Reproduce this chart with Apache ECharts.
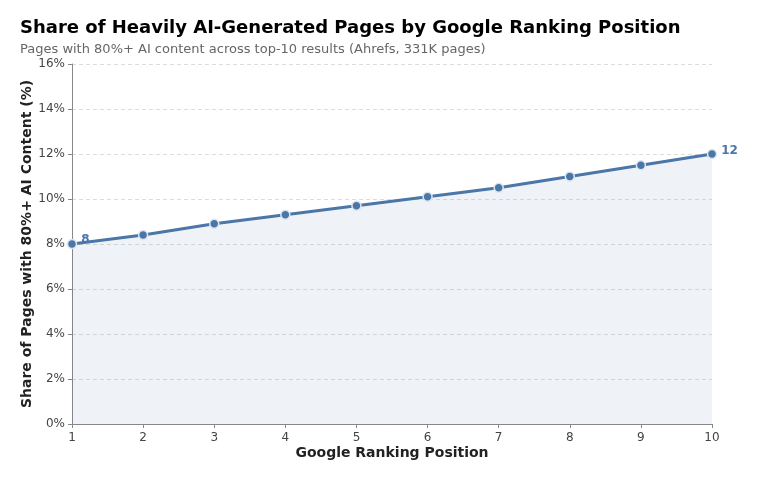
<!DOCTYPE html>
<html>
<head>
<meta charset="utf-8">
<script src="https://cdn.jsdelivr.net/npm/echarts@6/dist/echarts.min.js"></script>
<style>
html,body{margin:0;padding:0;background:#fff;}
#main{width:757px;height:480px;}
</style>
</head>
<body>
<div id="main"></div>
<script>
// ranking positions and share of pages (%)
var positions = ['1','2','3','4','5','6','7','8','9','10'];
var shares = [8.0, 8.4, 8.9, 9.3, 9.7, 10.1, 10.5, 11.0, 11.5, 12.0];
var yTicks = [0, 2, 4, 6, 8, 10, 12, 14, 16];

var font = 'DejaVu Sans';
var blue = '#4a76a8';

var chart = echarts.init(document.getElementById('main'));
var option = {
    animation: false,
    textStyle: { fontFamily: font },
    title: {
        text: 'Share of Heavily AI-Generated Pages by Google Ranking Position',
        subtext: 'Pages with 80%+ AI content across top-10 results (Ahrefs, 331K pages)',
        left: 15,
        top: 14,
        itemGap: 6,
        textStyle: { fontFamily: font, fontSize: 18, fontWeight: 'bold', color: '#000' },
        subtextStyle: { fontFamily: font, fontSize: 13, color: '#666' }
    },
    grid: { left: 72, right: 45, top: 64, bottom: 56 },
    xAxis: {
        type: 'category',
        data: positions,
        boundaryGap: false,
        name: 'Google Ranking Position',
        nameLocation: 'middle',
        nameGap: 22,
        nameMoveOverlap: false,
        nameTextStyle: { fontFamily: font, fontSize: 14, fontWeight: 'bold', color: '#222' },
        axisLine: { lineStyle: { color: '#888' } },
        axisTick: { alignWithLabel: true, length: 4, lineStyle: { color: '#888' } },
        axisLabel: { color: '#444', fontSize: 12, margin: 8 },
        splitLine: { show: false }
    },
    yAxis: {
        type: 'value',
        min: yTicks[0],
        max: yTicks[yTicks.length - 1],
        interval: 2,
        name: 'Share of Pages with 80%+ AI Content (%)',
        nameLocation: 'middle',
        nameGap: 38,
        nameMoveOverlap: false,
        nameTextStyle: { fontFamily: font, fontSize: 14, fontWeight: 'bold', color: '#222' },
        axisLine: { show: true, lineStyle: { color: '#888' } },
        axisTick: { show: true, length: 4, lineStyle: { color: '#888' } },
        axisLabel: { color: '#444', fontSize: 12, margin: 7, formatter: '{value}%' },
        splitLine: { show: true, lineStyle: { color: '#dddddd', type: [4, 3] } }
    },
    series: [{
        type: 'line',
        data: shares,
        symbol: 'circle',
        symbolSize: 9,
        lineStyle: { color: blue, width: 3 },
        itemStyle: { color: blue, borderColor: '#dde6f0', borderWidth: 1.5 },
        areaStyle: { color: 'rgba(74,118,168,0.13)' },
        label: {
            show: true,
            fontFamily: font,
            fontWeight: 'bold',
            fontSize: 12,
            color: blue,
            formatter: function (p) {
                if (p.dataIndex === 0 || p.dataIndex === shares.length - 1) return Math.round(p.value);
                return '';
            },
            position: 'right',
            distance: 4
        },
        labelLayout: function (p) {
            if (p.dataIndex === 0) return { dx: 0, dy: -4 };
            return { dx: 0, dy: -3 };
        }
    }]
};
chart.setOption(option);
</script>
</body>
</html>
